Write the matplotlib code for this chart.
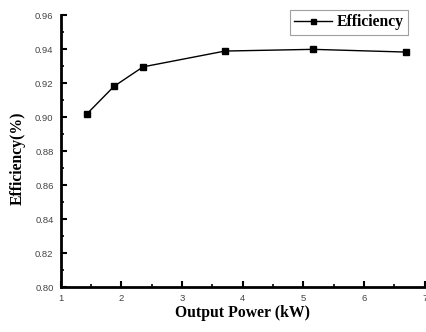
"""
efficiency vs output power curve
outputs: out.png
"""

import matplotlib.pyplot as plt
from matplotlib.ticker import MultipleLocator

# -- DATA --
power_kw = [1.44, 1.88, 2.36, 3.71, 5.16, 6.69]
efficiency = [0.902, 0.918, 0.9295, 0.9388, 0.9398, 0.9382]
series_label = "Efficiency"
x_label = "Output Power (kW)"
y_label = "Efficiency(%)"

# -- PLOT --
fig = plt.figure(figsize=(4.27, 3.32), dpi=100)
ax = fig.add_axes([0.1417, 0.1355, 0.853, 0.8193])

ax.plot(
    power_kw,
    efficiency,
    color="black",
    linewidth=1.0,
    marker="s",
    markersize=4.5,
    label=series_label,
)

ax.set_xlim(1, 7)
ax.set_ylim(0.80, 0.96)
ax.xaxis.set_major_locator(MultipleLocator(1))
ax.xaxis.set_minor_locator(MultipleLocator(0.5))
ax.yaxis.set_major_locator(MultipleLocator(0.02))
ax.yaxis.set_minor_locator(MultipleLocator(0.01))
ax.yaxis.set_major_formatter(plt.FuncFormatter(lambda v, _: f"{v:.2f}"))

for side in ["top", "right"]:
    ax.spines[side].set_visible(False)
for side in ["left", "bottom"]:
    ax.spines[side].set_linewidth(2.0)

ax.tick_params(which="major", direction="in", length=4, width=1.5,
               labelsize=6.8, labelcolor="#444444", pad=5)
ax.tick_params(which="minor", direction="in", length=2.5, width=1.2)
for lbl in ax.get_xticklabels() + ax.get_yticklabels():
    lbl.set_fontfamily("Liberation Sans")

# labels placed by centre, in axes coords
label_font = dict(family="Liberation Serif", weight="bold", size=11.3)
ax.set_xlabel(x_label, fontdict=label_font, va="center")
ax.set_ylabel(y_label, fontdict=label_font, va="center")
ax.xaxis.set_label_coords(0.5, -0.096)
ax.yaxis.set_label_coords(-0.117, 0.474)

legend = ax.legend(
    loc="upper right",
    bbox_to_anchor=(0.955, 1.02),
    frameon=True,
    fancybox=False,
    edgecolor="#888888",
    prop=dict(family="Liberation Serif", weight="bold", size=11.3),
    handlelength=2.4,
    handletextpad=0.3,
    borderpad=0.3,
    borderaxespad=0.0,
    markerscale=0.8,
)
legend.get_frame().set_linewidth(0.8)

plt.savefig("out.png", dpi=100)
plt.close()
